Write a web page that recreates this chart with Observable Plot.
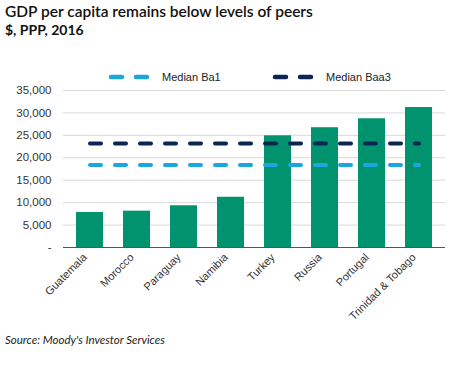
<!DOCTYPE html>
<html>
<head>
<meta charset="utf-8">
<script src="https://cdn.jsdelivr.net/npm/d3@7"></script>
<script src="https://cdn.jsdelivr.net/npm/@observablehq/plot@0.6"></script>
<style>
  body { margin: 0; background: #fff; width: 460px; height: 367px; overflow: hidden; font-family: Lato, "Open Sans", sans-serif; }
  #title { position: absolute; left: 5px; top: 2px; font-size: 15.5px; font-weight: 600; color: #111; font-family: Lato, sans-serif; }
  #subtitle { position: absolute; left: 5px; top: 21px; font-size: 14px; font-weight: 700; color: #111; font-family: Lato, sans-serif; }
  #legend { position: absolute; left: 0; top: 68px; width: 460px; height: 18px; }
  #chart { position: absolute; left: 0; top: 85px; }
  #caption { position: absolute; left: 5px; top: 333px; font-size: 11.5px; font-style: italic; color: #222; font-family: Lato, sans-serif; }
</style>
</head>
<body>
<div id="title">GDP per capita remains below levels of peers</div>
<div id="subtitle">$, PPP, 2016</div>
<div id="legend"></div>
<div id="chart"></div>
<div id="caption">Source: Moody's Investor Services</div>
<script>
const countries = ["Guatemala", "Morocco", "Paraguay", "Namibia", "Turkey", "Russia", "Portugal", "Trinidad & Tobago"];
const gdp = [7800, 8100, 9300, 11200, 24900, 26700, 28700, 31200];
const seriesNames = ["Median Ba1", "Median Baa3"];
const medianBa1 = 18400;
const medianBaa3 = 23200;
const seriesColors = ["#1aa7e0", "#0b2656"];
const yTicks = [0, 5000, 10000, 15000, 20000, 25000, 30000, 35000];

const bars = countries.map((c, i) => ({country: c, value: gdp[i]}));
const medians = [
  ...countries.map(c => ({country: c, value: medianBa1, series: seriesNames[0]})),
  ...countries.map(c => ({country: c, value: medianBaa3, series: seriesNames[1]}))
];

const fmt = d3.format(",");
const chart = Plot.plot({
  width: 460,
  height: 242,
  marginTop: 5,
  marginLeft: 63,
  marginRight: 15,
  marginBottom: 80,
  style: {fontFamily: "Liberation Sans, Arial, sans-serif", fontSize: "11px", color: "#333", background: "transparent"},
  x: {domain: countries, paddingInner: 0.42, paddingOuter: 0.21, label: null},
  y: {domain: [0, 35000], ticks: yTicks, label: null},
  color: {domain: seriesNames, range: seriesColors},
  marks: [
    Plot.gridY(yTicks, {stroke: "#d9d9d9", strokeOpacity: 1}),
    Plot.barY(bars, {x: "country", y: "value", fill: "#00936e"}),
    Plot.ruleY([0], {stroke: "#555", strokeWidth: 1.2}),
    Plot.line(medians, {x: "country", y: "value", z: "series", stroke: "series", strokeWidth: 4, strokeDasharray: "11,14", strokeLinecap: "round"}),
    Plot.axisY(yTicks, {tickSize: 0, tickPadding: 12, tickFormat: d => d === 0 ? "-" : fmt(d), fill: "#333", fontSize: 11.5}),
    Plot.axisX({tickSize: 0, tickRotate: -45, tickPadding: 8, fill: "#333", fontSize: 11, dx: -5})
  ]
});
document.getElementById("chart").appendChild(chart);

// legend
const leg = d3.select("#legend").append("svg").attr("width", 460).attr("height", 18);
const legX = [109, 273];
seriesNames.forEach((name, i) => {
  leg.append("line").attr("x1", legX[i] + 2).attr("x2", legX[i] + 38).attr("y1", 9).attr("y2", 9)
    .attr("stroke", seriesColors[i]).attr("stroke-width", 4.5).attr("stroke-linecap", "round")
    .attr("stroke-dasharray", "11,14");
  leg.append("text").attr("x", legX[i] + 53).attr("y", 13).text(name)
    .attr("font-family", "Liberation Sans, Arial, sans-serif").attr("font-size", 11).attr("fill", "#222");
});
</script>
</body>
</html>
